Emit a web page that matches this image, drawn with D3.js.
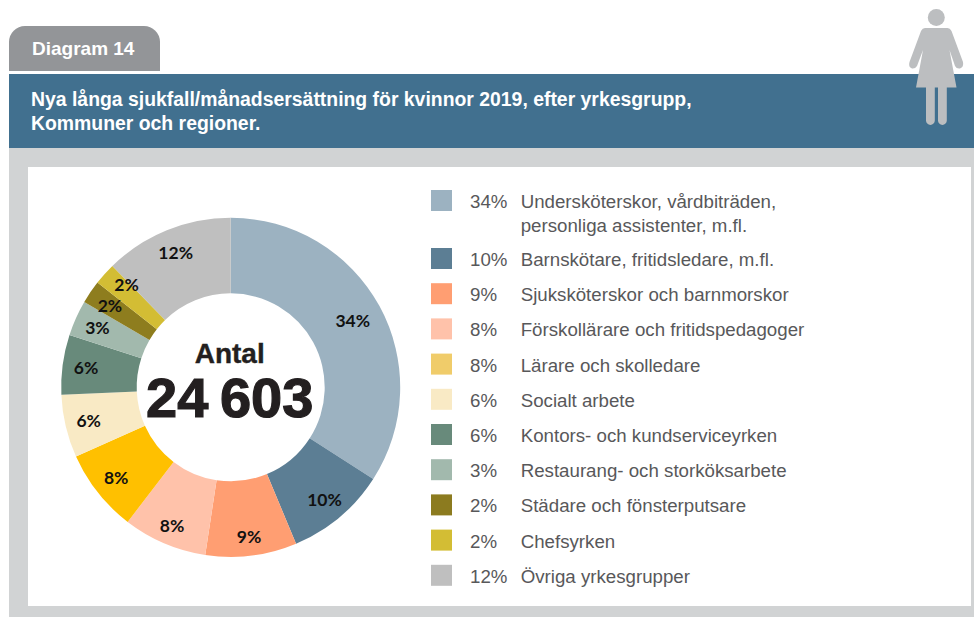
<!DOCTYPE html>
<html lang="sv">
<head>
<meta charset="utf-8">
<title>Diagram 14</title>
<script src="https://cdn.jsdelivr.net/npm/d3@7"></script>
<style>
	html, body { margin: 0; padding: 0; background: #fff; }
	svg { display: block; }
	.head { font-family: "Liberation Sans", Arial, sans-serif; font-weight: 700; fill: #fff; }
	.legend text { font-family: "Liberation Sans", Arial, sans-serif; font-size: 18.7px; fill: #58585a; }
	.slice-label { font-family: Lato, sans-serif; font-weight: 700; font-size: 17.5px; fill: #111; text-anchor: middle; }
	.centre { font-family: "Liberation Sans", Arial, sans-serif; font-weight: 700; fill: #231f20; stroke: #231f20; text-anchor: middle; }
</style>
</head>
<body>
<script>
var tabLabel = 'Diagram 14';
var titleLines = [
	'Nya långa sjukfall/månadsersättning för kvinnor 2019, efter yrkesgrupp,',
	'Kommuner och regioner.'
];
var centreLabel = 'Antal';
var centreValue = '24 603';

var categories = [
	['Undersköterskor, vårdbiträden,', 'personliga assistenter, m.fl.'],
	['Barnskötare, fritidsledare, m.fl.'],
	['Sjuksköterskor och barnmorskor'],
	['Förskollärare och fritidspedagoger'],
	['Lärare och skolledare'],
	['Socialt arbete'],
	['Kontors- och kundserviceyrken'],
	['Restaurang- och storköksarbete'],
	['Städare och fönsterputsare'],
	['Chefsyrken'],
	['Övriga yrkesgrupper']
];
// shares as drawn in the ring (printed labels are rounded)
var shares = [34.1, 9.6, 8.7, 8.0, 7.9, 6.0, 5.7, 3.4, 2.2, 2.1, 12.3];
var percentLabels = ['34%', '10%', '9%', '8%', '8%', '6%', '6%', '3%', '2%', '2%', '12%'];
var sliceColors = ['#9cb2c1', '#5c7e94', '#ff9e72', '#ffc2aa', '#ffc000', '#f9eac5', '#688a7b', '#a2b9ad', '#8e7d1e', '#d3bd34', '#bfbfbf'];
var legendColors = ['#9cb2c1', '#5c7e94', '#ff9e72', '#ffc2aa', '#f0cc6a', '#f9eac5', '#688a7b', '#a2b9ad', '#8c7b1f', '#d3bd34', '#bfbfbf'];

var w = 974,
	h = 617,
	cx = 230.7,
	cy = 387.3,
	R = 169.5,
	r = 94;

var svg = d3.select('body').append('svg')
	.attr('width', w)
	.attr('height', h);

// frame
svg.append('path')
	.attr('d', 'M9,71V42a16,16 0 0 1 16,-16H144a16,16 0 0 1 16,16V71Z')
	.attr('fill', '#939598');
svg.append('rect').attr('x', 9).attr('y', 148).attr('width', 965).attr('height', 469).attr('fill', '#d1d3d4');
svg.append('rect').attr('x', 9).attr('y', 74).attr('width', 965).attr('height', 74).attr('fill', '#41708f');
svg.append('rect').attr('x', 28).attr('y', 167).attr('width', 943).attr('height', 439).attr('fill', '#fff');

svg.append('text').attr('class', 'head')
	.attr('x', 32).attr('y', 55)
	.attr('font-size', 19)
	.text(tabLabel);

svg.selectAll('text.title')
	.data(titleLines)
	.enter()
	.append('text')
	.attr('class', 'head title')
	.attr('x', 31)
	.attr('y', function (d, i) { return 106 + i * 24; })
	.attr('font-size', 19.4)
	.text(function (d) { return d; });

// woman icon
var icon = svg.append('g').attr('fill', '#bcbec0');
icon.append('circle').attr('cx', 936.3).attr('cy', 17.5).attr('r', 8.5);
icon.append('path').attr('d',
	'M925,28H947.5Q950,28 951.5,31L963,62Q964,67 960,68.5Q956.5,69 955,66L949.5,50L956.5,87.5H946.8V120.5a4.4,4.4 0 0 1 -8.8,0V87.5H934.8V120.5a4.4,4.4 0 0 1 -8.8,0V87.5H916L923,50L917,66Q915,69 912,68.5Q908,67 909.5,62L921,31Q922.5,28 925,28Z');

// ring
var pie = d3.pie().sort(null);
var arc = d3.arc().innerRadius(r).outerRadius(R);
var arcs = pie(shares);

var ring = svg.append('g')
	.attr('transform', 'translate(' + cx + ',' + cy + ')');

ring.selectAll('path')
	.data(arcs)
	.enter()
	.append('path')
	.attr('d', arc)
	.attr('fill', function (d, i) { return sliceColors[i]; });

// labels mostly sit at r=146, a few were moved by hand in the original
function labelRadius(i) {
	if (i === 0) return 139;
	if (i === 2 || i === 3) return 150;
	return 146;
}

ring.selectAll('text.slice-label')
	.data(arcs)
	.enter()
	.append('text')
	.attr('class', 'slice-label')
	.attr('transform', function (d, i) {
		var a = (d.startAngle + d.endAngle) / 2 + (i === 9 ? 0.045 : 0),
			rr = labelRadius(i);
		return 'translate(' + (Math.sin(a) * rr) + ',' + (-Math.cos(a) * rr + 6.5) + ')';
	})
	.text(function (d, i) { return percentLabels[i]; });

ring.append('text').attr('class', 'centre')
	.attr('x', -1).attr('y', -24.5)
	.attr('font-size', 28)
	.attr('stroke-width', 0.4)
	.text(centreLabel);
ring.append('text').attr('class', 'centre')
	.attr('x', -1).attr('y', 29.4)
	.attr('font-size', 56)
	.attr('stroke-width', 1.2)
	.attr('word-spacing', -4)
	.text(centreValue);

// legend
function rowY(i) {
	return i === 0 ? 190 : 248 + (i - 1) * 35.2;
}

var legend = svg.append('g').attr('class', 'legend');
var rows = legend.selectAll('g')
	.data(categories)
	.enter()
	.append('g')
	.attr('transform', function (d, i) { return 'translate(431,' + rowY(i) + ')'; });

rows.append('rect')
	.attr('width', 21)
	.attr('height', 21)
	.attr('fill', function (d, i) { return legendColors[i]; });

rows.append('text')
	.attr('x', 39)
	.attr('y', 18)
	.text(function (d, i) { return percentLabels[i]; });

rows.each(function (d) {
	var row = d3.select(this);
	d.forEach(function (line, j) {
		row.append('text')
			.attr('x', 89.7)
			.attr('y', 18 + j * 24)
			.text(line);
	});
});
</script>
</body>
</html>
